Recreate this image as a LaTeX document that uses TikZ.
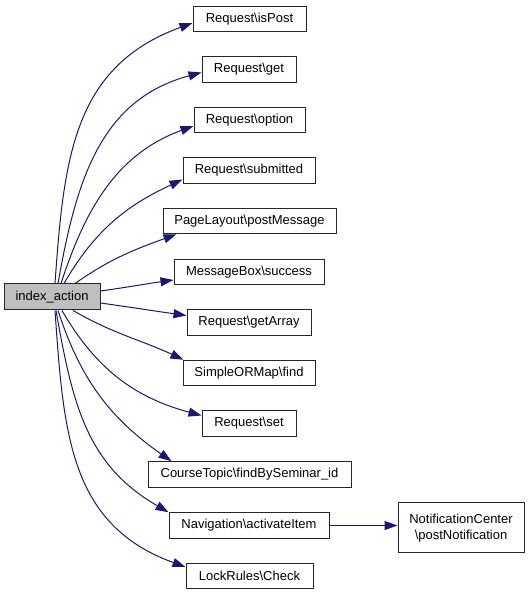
\documentclass[tikz,border=0pt]{standalone}
\usepackage{fontspec}
\setmainfont{Liberation Sans}
\usepackage{tikz}
\usetikzlibrary{arrows.meta}
\definecolor{callblue}{RGB}{25, 25, 112}
\definecolor{callergray}{RGB}{191, 191, 191}

\begin{document}
\begin{tikzpicture}[x=1pt, y=1pt,
    every node/.style={font=\fontsize{13}{15.5}\selectfont},
    fn/.style={draw=black!85, line width=1pt, fill=white, inner sep=0pt, minimum height=25.5pt},
    call/.style={callblue, line width=1pt, -{Triangle[length=13pt, width=9pt]}}]
    \useasboundingbox (0,0) rectangle (531,595);

    % Caller
    \node[fn, fill=callergray, minimum width=96pt, minimum height=26pt] (idx) at (52,298) {index\_action};

    % Callees
    \node[fn, minimum width=113pt] (isPost) at (249.5,576) {Request\textbackslash isPost};
    \node[fn, minimum width=94pt] (get) at (249,525.5) {Request\textbackslash get};
    \node[fn, minimum width=111pt] (option) at (249.5,475) {Request\textbackslash option};
    \node[fn, minimum width=132pt] (submitted) at (249,424.5) {Request\textbackslash submitted};
    \node[fn, minimum width=173pt] (postMsg) at (249.5,374) {PageLayout\textbackslash postMessage};
    \node[fn, minimum width=150pt] (success) at (249,323) {MessageBox\textbackslash success};
    \node[fn, minimum width=124pt] (getArray) at (249,272.5) {Request\textbackslash getArray};
    \node[fn, minimum width=132pt] (ormFind) at (249,222) {SimpleORMap\textbackslash find};
    \node[fn, minimum width=94pt] (set) at (249,171.5) {Request\textbackslash set};
    \node[fn, minimum width=203pt] (findSem) at (249.5,120.5) {CourseTopic\textbackslash findBySeminar\_id};
    \node[fn, minimum width=160pt] (activate) at (249,69.5) {Navigation\textbackslash activateItem};
    \node[fn, minimum width=127pt] (check) at (249.5,19) {LockRules\textbackslash Check};
    \node[fn, minimum width=126pt, minimum height=50pt, align=center] (postNote) at (461,67) {NotificationCenter\\\textbackslash postNotification};

    % Calls from index_action
    \draw[call] ([xshift=3pt]idx.north) to[out=86, in=200, looseness=1.1] ([yshift=-4pt]isPost.west);
    \draw[call] ([xshift=6pt]idx.north) to[out=80, in=195, looseness=1.05] ([yshift=-3pt]get.west);
    \draw[call] ([xshift=9pt]idx.north) to[out=72, in=200] ([yshift=-6pt]option.west);
    \draw[call] ([xshift=12pt]idx.north) to[out=60, in=205] ([yshift=-9pt]submitted.west);
    \draw[call] ([xshift=23pt]idx.north) to[out=35, in=200] ([xshift=14pt]postMsg.south west);
    \draw[call] ([yshift=6pt]idx.east) to[out=8, in=188] ([yshift=-8pt]success.west);
    \draw[call] ([yshift=-6pt]idx.east) to[out=-8, in=172] ([yshift=7pt]getArray.west);
    \draw[call] ([xshift=21pt]idx.south) to[out=-30, in=155] ([xshift=1pt]ormFind.north west);
    \draw[call] ([xshift=10pt]idx.south) to[out=-60, in=165] ([yshift=8pt]set.west);
    \draw[call] ([xshift=6pt]idx.south) to[out=-72, in=145] ([xshift=24pt]findSem.north west);
    \draw[call] ([xshift=4pt]idx.south) to[out=-80, in=150, looseness=1.05] (activate.north west);
    \draw[call] ([xshift=3pt]idx.south) to[out=-86, in=160, looseness=1.1] ([yshift=9pt]check.west);

    % Nested call
    \draw[call] (activate.east) -- (activate.east -| postNote.west);
\end{tikzpicture}
\end{document}
